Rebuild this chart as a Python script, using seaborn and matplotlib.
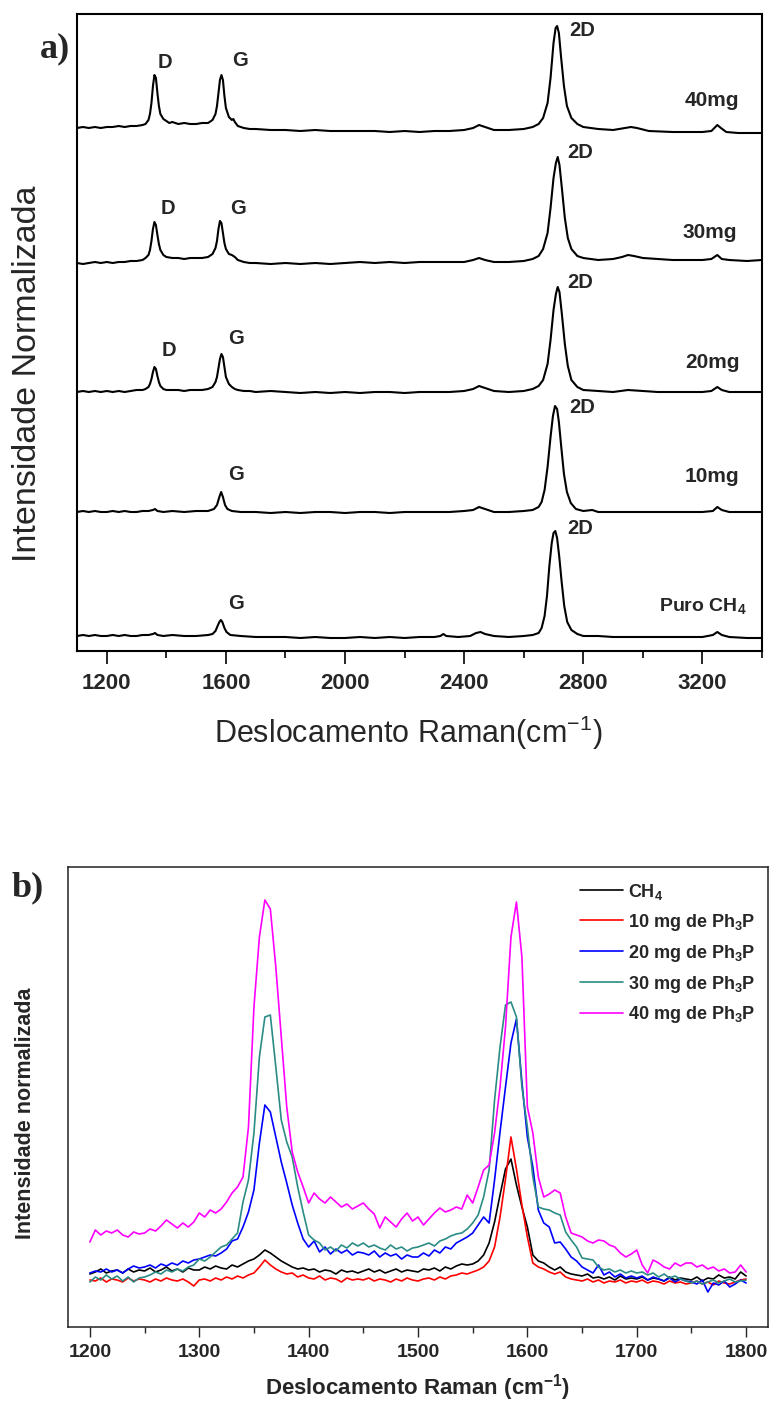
import numpy as np
import pandas as pd
import matplotlib
matplotlib.use("Agg")
import matplotlib.pyplot as plt
import seaborn as sns
from matplotlib.ticker import MultipleLocator

# ---------------- Panel a data (Raman shift, intensity above each baseline) ----------------
spec_ch4 = [(1100, 0), (1120, 1), (1140, 0), (1160, 1), (1180, 0), (1200, 0), (1220, 1), (1240, 0),
            (1260, 1), (1280, 0), (1300, 0), (1320, 1), (1340, 1), (1355, 2), (1362, 3), (1370, 1),
            (1390, 0), (1420, 1), (1460, 0), (1500, 0), (1540, 1), (1555, 2), (1565, 5), (1572, 10),
            (1578, 14), (1583, 16), (1588, 14), (1595, 8), (1602, 4), (1615, 1), (1650, 0), (1700, -1),
            (1750, -1), (1800, -1), (1850, -2), (1900, -1), (1950, -2), (2000, -2), (2050, -1),
            (2100, -2), (2150, -1), (2200, -2), (2250, -1), (2300, -1), (2320, 0), (2330, 2), (2340, 0),
            (2380, -1), (2420, 0), (2440, 3), (2455, 4), (2470, 2), (2500, 0), (2550, -1), (2600, 0),
            (2630, 1), (2650, 3), (2660, 8), (2670, 20), (2678, 40), (2686, 70), (2694, 93), (2700, 103),
            (2706, 105), (2712, 98), (2719, 80), (2727, 55), (2736, 30), (2746, 14), (2760, 6),
            (2780, 2), (2800, 0), (2850, 0), (2900, -1), (3000, -1), (3100, -1), (3200, -1),
            (3235, 1), (3250, 4), (3265, 1), (3290, -1), (3350, -2), (3400, -2)]

spec_10mg = [(1100, 0), (1120, 1), (1140, 0), (1160, 1), (1180, 0), (1200, 0), (1220, 1), (1240, 0),
             (1260, 1), (1280, 0), (1300, 0), (1320, 1), (1340, 1), (1355, 2), (1362, 3), (1370, 1),
             (1390, 0), (1420, 1), (1460, 0), (1500, 1), (1540, 1), (1560, 3), (1570, 7), (1578, 15),
             (1584, 20), (1590, 15), (1597, 7), (1605, 3), (1620, 1), (1650, 0), (1700, 0), (1750, -1),
             (1800, 0), (1850, -1), (1900, 0), (1950, 0), (2000, -1), (2050, 0), (2100, 0), (2150, -1),
             (2200, 0), (2250, 0), (2300, 0), (2350, 0), (2400, 1), (2430, 2), (2450, 5), (2470, 3),
             (2500, 0), (2550, 0), (2600, 1), (2630, 2), (2650, 5), (2660, 10), (2670, 22), (2680, 45),
             (2690, 75), (2698, 96), (2705, 106), (2712, 103), (2718, 90), (2726, 65), (2735, 38),
             (2745, 20), (2758, 9), (2775, 3), (2800, 1), (2830, 2), (2850, 0), (2900, 0), (2950, 0),
             (3000, 0), (3100, 0), (3200, 0), (3235, 1), (3250, 5), (3265, 2), (3290, 0), (3350, 0),
             (3400, 0)]

spec_20mg = [(1100, 0), (1120, 1), (1140, 0), (1160, 1), (1180, 0), (1200, 1), (1220, 0), (1240, 1),
             (1260, 0), (1280, 1), (1300, 2), (1320, 2), (1330, 3), (1340, 5), (1345, 8), (1350, 13),
             (1355, 20), (1360, 25), (1365, 23), (1370, 16), (1375, 10), (1380, 6), (1390, 3),
             (1400, 2), (1420, 2), (1440, 2), (1460, 1), (1480, 2), (1500, 2), (1520, 2), (1540, 3),
             (1555, 5), (1565, 10), (1570, 15), (1575, 24), (1580, 33), (1585, 38), (1590, 35),
             (1595, 25), (1600, 15), (1610, 8), (1620, 5), (1630, 3), (1640, 2), (1660, 1), (1680, 1),
             (1700, 0), (1750, 1), (1800, 0), (1850, -1), (1900, 0), (1950, -1), (2000, 0), (2050, -1),
             (2100, 0), (2150, 0), (2200, -1), (2250, 0), (2300, 0), (2350, 0), (2400, 1), (2430, 3),
             (2450, 6), (2470, 4), (2500, 1), (2550, 0), (2600, 1), (2630, 3), (2650, 6), (2665, 12),
             (2680, 28), (2690, 52), (2700, 82), (2708, 98), (2714, 105), (2720, 100), (2728, 78),
             (2738, 48), (2748, 26), (2760, 12), (2780, 5), (2800, 2), (2850, 1), (2900, 0), (2950, 2),
             (3000, 1), (3050, 0), (3100, 0), (3150, 0), (3200, 0), (3230, 1), (3250, 5), (3265, 2),
             (3290, 0), (3350, 0), (3400, 0)]

spec_30mg = [(1100, 0), (1120, -1), (1140, 0), (1160, 1), (1180, 0), (1200, 1), (1220, 0), (1240, 1),
             (1260, 1), (1280, 2), (1300, 2), (1320, 3), (1330, 5), (1340, 8), (1345, 13), (1350, 22),
             (1355, 34), (1360, 41), (1365, 38), (1370, 28), (1375, 19), (1380, 13), (1390, 8),
             (1400, 6), (1420, 5), (1440, 5), (1460, 4), (1480, 5), (1500, 5), (1520, 5), (1540, 6),
             (1555, 9), (1565, 15), (1570, 22), (1575, 34), (1580, 42), (1585, 40), (1590, 30),
             (1595, 20), (1600, 14), (1610, 9), (1620, 8), (1630, 6), (1640, 3), (1660, 1), (1680, 0),
             (1700, 0), (1750, -1), (1800, 0), (1850, -1), (1900, 0), (1950, -1), (2000, 0), (2050, 1),
             (2100, 0), (2150, 1), (2200, 0), (2250, 1), (2300, 1), (2350, 1), (2400, 1), (2430, 3),
             (2450, 5), (2470, 3), (2500, 1), (2550, 1), (2600, 2), (2630, 4), (2650, 7), (2665, 14),
             (2680, 30), (2690, 55), (2700, 85), (2708, 100), (2714, 106), (2720, 98), (2728, 75),
             (2738, 45), (2748, 25), (2760, 14), (2780, 7), (2800, 5), (2850, 3), (2900, 4), (2930, 6),
             (2950, 8), (2970, 7), (3000, 5), (3050, 4), (3100, 3), (3150, 3), (3200, 3), (3230, 4),
             (3250, 8), (3265, 4), (3290, 3), (3350, 2), (3400, 3)]

spec_40mg = [(1100, 0), (1120, 1), (1140, 0), (1160, 1), (1180, 0), (1200, 1), (1220, 1), (1240, 2),
             (1260, 1), (1280, 2), (1300, 2), (1320, 3), (1330, 4), (1340, 8), (1345, 14), (1350, 25),
             (1355, 42), (1360, 53), (1365, 50), (1370, 35), (1375, 22), (1380, 14), (1390, 9),
             (1400, 7), (1410, 5), (1420, 6), (1440, 4), (1460, 5), (1480, 4), (1500, 4), (1520, 5),
             (1540, 5), (1555, 8), (1565, 14), (1570, 22), (1575, 35), (1580, 48), (1585, 53),
             (1590, 48), (1595, 32), (1600, 20), (1610, 11), (1620, 8), (1625, 9), (1630, 6), (1640, 2),
             (1660, 0), (1680, -1), (1700, -1), (1750, -2), (1800, -2), (1850, -3), (1900, -2),
             (1950, -3), (2000, -3), (2050, -3), (2100, -3), (2150, -4), (2200, -3), (2250, -4),
             (2300, -3), (2350, -3), (2400, -2), (2430, 0), (2450, 3), (2470, 1), (2500, -2), (2550, -2),
             (2600, -1), (2630, 1), (2650, 4), (2665, 10), (2680, 25), (2690, 50), (2700, 85),
             (2707, 100), (2712, 102), (2718, 95), (2725, 72), (2735, 42), (2745, 22), (2760, 10),
             (2780, 4), (2800, 1), (2850, -1), (2900, -2), (2940, 0), (2960, 1), (2980, 0), (3020, -3),
             (3100, -4), (3150, -4), (3200, -4), (3230, -3), (3250, 3), (3262, 0), (3280, -4),
             (3320, -5), (3400, -5)]

spectra_a = [spec_ch4, spec_10mg, spec_20mg, spec_30mg, spec_40mg]
offsets_a = [15, 139, 259, 388, 523]
names_a = ["Puro CH4", "10mg", "20mg", "30mg", "40mg"]

# peak labels: (text, x, y)
peak_labels_a = [("D", 1394, 589), ("G", 1646, 590), ("2D", 2795, 620),
                 ("D", 1404, 443), ("G", 1642, 443), ("2D", 2791, 498),
                 ("D", 1408, 300), ("G", 1635, 313), ("2D", 2791, 369),
                 ("G", 1635, 176), ("2D", 2795, 243),
                 ("G", 1635, 47), ("2D", 2791, 122)]
sample_label_pos = [(3200, 45), (3233, 174), (3233, 289), (3223, 419), (3233, 551)]
xticks_a = [1200, 1600, 2000, 2400, 2800, 3200]

# ---------------- Panel b data ----------------
shift_b = list(range(1200, 1805, 5))
ch4_b = [53, 55, 58, 54, 56, 57, 54, 58, 55, 57,
         56, 59, 55, 57, 60, 56, 58, 55, 59, 57,
         57, 60, 58, 61, 59, 58, 62, 60, 63, 66,
         68, 72, 77, 74, 70, 66, 63, 60, 58, 59,
         57, 58, 55, 57, 56, 53, 57, 55, 56, 54,
         56, 58, 55, 57, 54, 56, 58, 55, 57, 56,
         55, 58, 57, 59, 56, 60, 58, 61, 63, 62,
         63, 66, 72, 84, 105, 132, 158, 168, 142, 120,
         100, 72, 66, 64, 60, 57, 60, 55, 53, 52,
         51, 53, 49, 50, 48, 50, 47, 51, 48, 49,
         48, 50, 47, 49, 48, 46, 50, 47, 49, 48,
         47, 50, 46, 49, 48, 52, 49, 50, 48, 55,
         51]
mg10_b = [47, 46, 49, 45, 48, 47, 45, 49, 46, 48,
          47, 45, 48, 46, 49, 47, 46, 48, 45, 41,
          47, 48, 46, 49, 47, 50, 48, 51, 49, 52,
          54, 60, 67, 62, 58, 55, 53, 54, 50, 52,
          49, 48, 51, 47, 49, 48, 45, 49, 47, 48,
          47, 49, 46, 48, 47, 45, 48, 46, 49, 47,
          46, 48, 49, 47, 50, 48, 51, 52, 54, 53,
          55, 57, 60, 66, 80, 110, 148, 190, 158, 122,
          90, 64, 60, 58, 55, 53, 55, 50, 48, 47,
          46, 48, 45, 47, 44, 46, 45, 47, 44, 46,
          45, 47, 44, 46, 45, 43, 46, 44, 45, 43,
          44, 46, 43, 45, 42, 46, 44, 43, 45, 47,
          48]
mg20_b = [54, 56, 55, 58, 55, 57, 54, 58, 61, 59,
          60, 62, 59, 63, 61, 64, 62, 66, 64, 67,
          68, 70, 72, 71, 74, 78, 86, 88, 100, 115,
          137, 184, 222, 215, 190, 165, 144, 122, 104, 88,
          80, 86, 75, 80, 73, 78, 74, 77, 72, 75,
          74, 72, 76, 70, 74, 71, 73, 68, 72, 70,
          70, 74, 71, 77, 74, 80, 78, 84, 87, 90,
          94, 102, 110, 104, 147, 195, 240, 284, 308, 245,
          190, 160, 117, 104, 100, 84, 85, 78, 70, 66,
          60, 57, 54, 62, 52, 55, 50, 53, 49, 51,
          49, 51, 47, 50, 48, 46, 49, 45, 48, 46,
          45, 43, 47, 35, 44, 42, 46, 40, 43, 47,
          44]
mg30_b = [45, 50, 47, 52, 48, 51, 46, 50, 45, 49,
          50, 52, 55, 53, 57, 55, 58, 56, 60, 62,
          68, 66, 70, 75, 80, 82, 88, 94, 125, 147,
          194, 270, 310, 312, 260, 207, 185, 170, 140, 115,
          92, 87, 84, 77, 80, 76, 82, 79, 84, 81,
          84, 80, 82, 79, 77, 82, 78, 80, 76, 79,
          80, 82, 84, 81, 86, 88, 91, 93, 94, 98,
          104, 112, 130, 157, 227, 280, 322, 325, 310, 240,
          200, 150, 120, 118, 117, 114, 112, 95, 87, 80,
          69, 68, 67, 60, 57, 58, 55, 57, 54, 56,
          54, 55, 52, 54, 50, 53, 49, 51, 48, 46,
          44, 46, 43, 45, 47, 44, 46, 48, 45, 46,
          47]
mg40_b = [85, 97, 92, 96, 94, 97, 92, 90, 95, 93,
          94, 98, 96, 101, 107, 103, 99, 104, 100, 105,
          114, 110, 117, 114, 118, 125, 134, 140, 150, 200,
          320, 390, 427, 418, 360, 290, 220, 175, 155, 140,
          124, 134, 128, 124, 130, 125, 120, 123, 118, 121,
          124, 118, 113, 99, 110, 105, 100, 108, 114, 106,
          110, 102, 108, 114, 119, 115, 117, 120, 118, 132,
          124, 140, 157, 162, 194, 240, 300, 390, 425, 370,
          220, 194, 150, 130, 133, 137, 134, 110, 94, 92,
          90, 86, 84, 87, 86, 82, 80, 74, 70, 73,
          77, 62, 54, 67, 64, 60, 58, 64, 61, 64,
          64, 60, 62, 58, 60, 56, 58, 54, 55, 62,
          55]
series_b = ["CH4", "10 mg", "20 mg", "30 mg", "40 mg"]
labels_b = [r"$\mathbf{CH_4}$", r"$\mathbf{10\ mg\ de\ Ph_3P}$", r"$\mathbf{20\ mg\ de\ Ph_3P}$",
            r"$\mathbf{30\ mg\ de\ Ph_3P}$", r"$\mathbf{40\ mg\ de\ Ph_3P}$"]
colors_b = ["#000000", "#FF0000", "#0000FF", "#2A8C84", "#FF00FF"]
xticks_b = [1200, 1300, 1400, 1500, 1600, 1700, 1800]

# ---------------- Style ----------------
sns.set_theme(style="white")
plt.rcParams["font.family"] = ["Liberation Sans", "DejaVu Sans"]
plt.rcParams["mathtext.fontset"] = "custom"
plt.rcParams["mathtext.rm"] = "Liberation Sans"
plt.rcParams["mathtext.bf"] = "Liberation Sans:bold"
plt.rcParams["mathtext.it"] = "Liberation Sans:italic"

fig = plt.figure(figsize=(7.7, 14.01), dpi=100)
ax1 = fig.add_axes([77 / 770, 1 - 651 / 1401, (762 - 77) / 770, (651 - 14) / 1401])
ax2 = fig.add_axes([68 / 770, 1 - 1327 / 1401, (768 - 68) / 770, (1327 - 867) / 1401])

# ---------------- Panel a ----------------
for spec, off in zip(spectra_a, offsets_a):
    xs = [p[0] for p in spec]
    ys = [p[1] + off for p in spec]
    sns.lineplot(x=xs, y=ys, color="black", lw=1.5, ax=ax1, sort=False, estimator=None)

ax1.set_xlim(1100, 3400)
ax1.set_ylim(0, 637)
ax1.set_yticks([])
ax1.set_xticks(xticks_a)
ax1.xaxis.set_minor_locator(MultipleLocator(200))
ax1.tick_params(axis="x", which="major", direction="out", length=9, width=1.4, pad=7,
                labelsize=16, bottom=True)
ax1.tick_params(axis="x", which="minor", direction="out", length=5, width=1.4, bottom=True)
for lbl in ax1.get_xticklabels():
    lbl.set_fontweight("bold")
for s in ax1.spines.values():
    s.set_linewidth(1.5)
    s.set_color("black")
ax1.set_xlabel("Deslocamento Raman(cm$^{-1}$)", fontsize=22, labelpad=8)
ax1.xaxis.set_label_coords(0.483, -0.098)
ax1.set_ylabel("Intensidade Normalizada", fontsize=24.5)
ax1.yaxis.set_label_coords(-0.049, 0.436)

for txt, x, y in peak_labels_a:
    ax1.text(x, y, txt, ha="center", va="center", fontsize=14.5, fontweight="bold")
for name, (x, y) in zip(names_a, sample_label_pos):
    if name.startswith("Puro"):
        ax1.text(x, y, r"$\mathbf{Puro\ CH}_{\mathbf{4}}$", ha="center", va="center", fontsize=14)
    else:
        ax1.text(x, y, name, ha="center", va="center", fontsize=15, fontweight="bold")

fig.text(55 / 770, 1 - 49 / 1401, "a)", ha="center", va="center", fontsize=26,
         fontweight="bold", family="Liberation Serif")

# ---------------- Panel b ----------------
df_b = pd.DataFrame({
    "shift": shift_b * 5,
    "intensidade": ch4_b + mg10_b + mg20_b + mg30_b + mg40_b,
    "amostra": sum([[s] * len(shift_b) for s in series_b], []),
})
sns.lineplot(data=df_b, x="shift", y="intensidade", hue="amostra", hue_order=series_b,
             palette=dict(zip(series_b, colors_b)), lw=1.2, ax=ax2, estimator=None, sort=False)

ax2.set_xlim(1180, 1820)
ax2.set_ylim(0, 460)
ax2.set_yticks([])
ax2.set_xticks(xticks_b)
ax2.xaxis.set_minor_locator(MultipleLocator(50))
ax2.tick_params(axis="x", which="major", direction="out", length=7, width=1.0, pad=5,
                labelsize=14, bottom=True)
ax2.tick_params(axis="x", which="minor", direction="out", length=4, width=1.0, bottom=True)
for lbl in ax2.get_xticklabels():
    lbl.set_fontweight("bold")
for s in ax2.spines.values():
    s.set_linewidth(1.1)
    s.set_color("#222222")
ax2.set_xlabel("Deslocamento Raman (cm$^{\\mathbf{-1}}$)", fontsize=16, fontweight="bold", labelpad=8)
ax2.set_ylabel("Intensidade normalizada", fontsize=15.5, fontweight="bold", labelpad=8)
ax2.yaxis.set_label_coords(-0.046, 0.465)

handles, _ = ax2.get_legend_handles_labels()
leg = ax2.legend(handles, labels_b, loc="upper left", bbox_to_anchor=(0.731, 0.968),
                 frameon=False, fontsize=13, handlelength=2.4, handletextpad=0.3,
                 labelspacing=0.55, borderpad=0, borderaxespad=0)
for h in leg.get_lines():
    h.set_linewidth(1.2)

fig.text(28 / 770, 1 - 888 / 1401, "b)", ha="center", va="center", fontsize=26,
         fontweight="bold", family="Liberation Serif")

fig.savefig("out.png", dpi=100)
